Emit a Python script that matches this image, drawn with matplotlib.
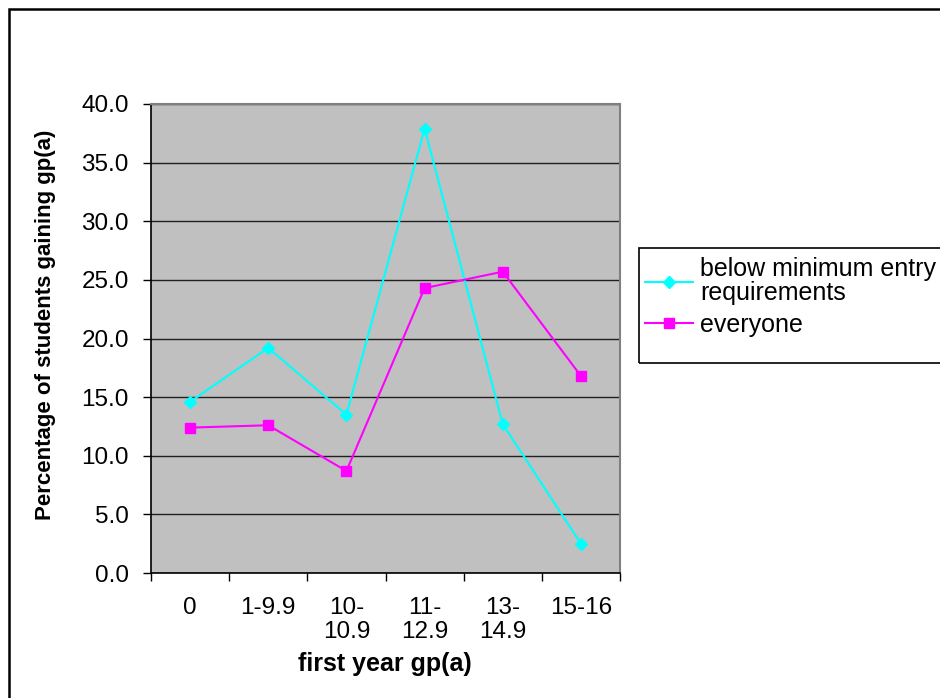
import matplotlib
matplotlib.use("Agg")
import matplotlib.pyplot as plt
from matplotlib.patches import Rectangle

plt.rcParams['font.family'] = ['Liberation Sans', 'DejaVu Sans']

categories = ["0", "1-9.9", "10-\n10.9", "11-\n12.9", "13-\n14.9", "15-16"]
below_min = [14.6, 19.2, 13.5, 37.9, 12.7, 2.5]
everyone = [12.4, 12.6, 8.7, 24.3, 25.7, 16.8]
series_names = ["below minimum entry\nrequirements", "everyone"]
yticks = [0, 5, 10, 15, 20, 25, 30, 35, 40]

W, H = 940, 698
fig = plt.figure(figsize=(W / 100, H / 100), dpi=100)
fig.patch.set_facecolor("white")

ax = fig.add_axes([151 / W, (H - 573) / H, 469 / W, 469 / H])
ax.set_facecolor("#C0C0C0")

x = list(range(len(categories)))
l1, = ax.plot(x, below_min, color="#00FFFF", lw=1.5, marker="D", markersize=6.5,
              markeredgecolor="#00FFFF", label=series_names[0], zorder=3)
l2, = ax.plot(x, everyone, color="#FF00FF", lw=1.5, marker="s", markersize=7,
              markeredgecolor="#FF00FF", label=series_names[1], zorder=3)

ax.set_xlim(-0.5, len(categories) - 0.5)
ax.set_ylim(0, 40)
ax.set_yticks(yticks)
ax.set_yticklabels([f"{v:.1f}" for v in yticks])
ax.yaxis.grid(True, color="#202020", lw=1.0)
ax.set_axisbelow(True)

# x ticks at category boundaries, labels at centers
ax.set_xticks([i - 0.5 for i in range(len(categories) + 1)])
ax.set_xticklabels([])
ax.set_xticks(x, minor=True)
ax.set_xticklabels(categories, minor=True, fontsize=17.5, linespacing=1.12)
ax.tick_params(axis="x", which="minor", length=0, pad=17)
ax.tick_params(axis="x", which="major", length=6, width=1, color="black", direction="out")
ax.tick_params(axis="y", length=6, width=1, color="black", direction="out", labelsize=17.5, pad=10)

for s in ["top", "right"]:
    ax.spines[s].set_color("#808080")
    ax.spines[s].set_linewidth(1.5)
for s in ["left", "bottom"]:
    ax.spines[s].set_color("black")
    ax.spines[s].set_linewidth(1.2)

fig.text(385 / W, 1 - 664 / H, "first year gp(a)", fontsize=18, fontweight="bold",
         ha="center", va="center")
fig.text(46 / W, 1 - 325 / H, "Percentage of students gaining gp(a)", fontsize=16,
         fontweight="bold", rotation=90, ha="center", va="center")

# legend
leg = fig.legend(handles=[l1, l2], labels=series_names, loc="upper left",
                 bbox_to_anchor=(645 / W, 1 - 257 / H), frameon=False, fontsize=18,
                 handlelength=1.9, handletextpad=0.3, borderpad=0, borderaxespad=0,
                 labelspacing=0.3)
for t in leg.get_texts():
    t.set_linespacing(1.0)
fig.add_artist(Rectangle((639 / W, 1 - 363 / H), 320 / W, 115 / H, transform=fig.transFigure,
                         facecolor="none", edgecolor="black", lw=1.2, clip_on=False))

# outer border
fig.add_artist(Rectangle((9 / W, -20 / H), 960 / W, (H - 9 + 20) / H, transform=fig.transFigure,
                         facecolor="none", edgecolor="black", lw=1.8, clip_on=False))

fig.savefig("out.png", dpi=100)
